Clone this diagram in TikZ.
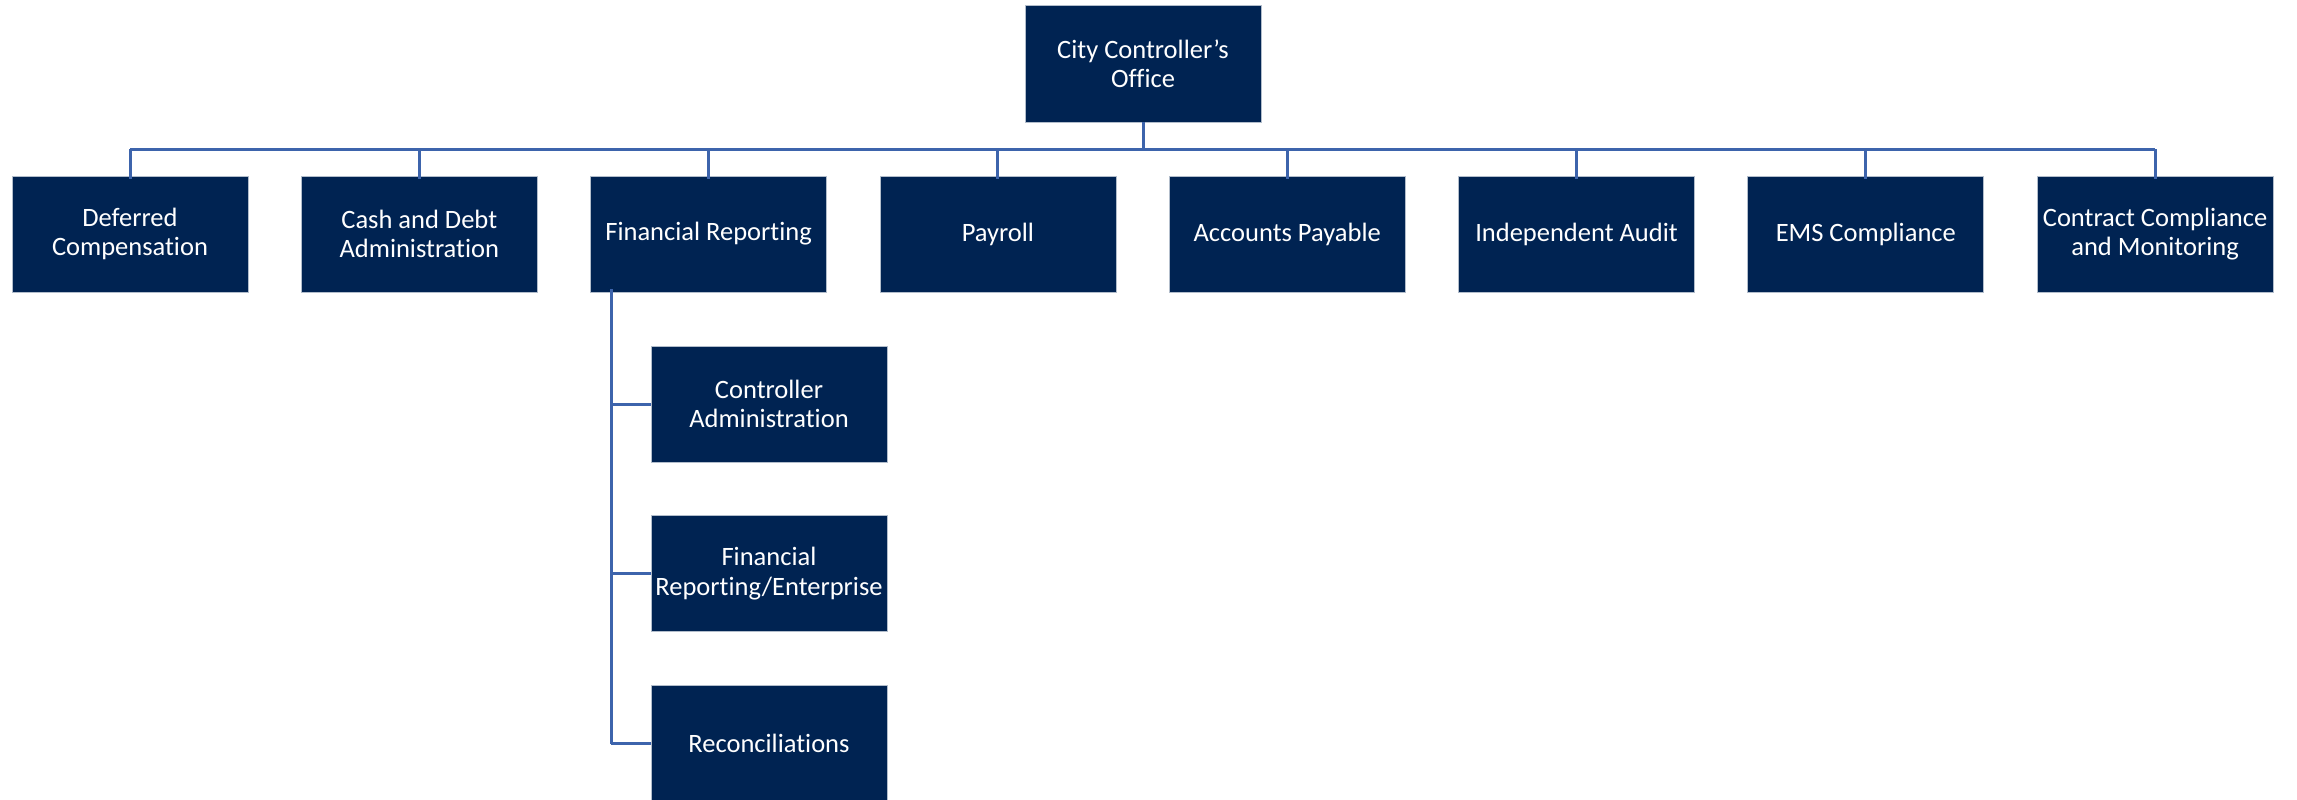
\documentclass[tikz,border=0pt]{standalone}
\usepackage{fontspec}
\setmainfont{Carlito}[Ligatures=NoCommon]
\usepackage{tikz}
\usetikzlibrary{positioning}
\definecolor{unitnavy}{RGB}{0,35,82}
\definecolor{linkblue}{RGB}{61,100,172}
\tikzset{
  unit/.style={rectangle, fill=unitnavy, draw=white!70!unitnavy, line width=0.8pt,
    minimum width=236pt, minimum height=116pt, inner sep=2pt, align=center,
    text=white, font=\fontsize{26.5}{29.5}\selectfont},
  link/.style={draw=linkblue, line width=3pt}
}

\begin{document}
\begin{tikzpicture}[x=1pt,y=-1pt]
        \useasboundingbox (0,0) rectangle (2297,800);
        \node[unit, minimum height=117pt] (office) at (1143,63.5) {City Controller’s\\Office};
        \coordinate (bus) at (0,149);
        \foreach \name/\txt [count=\i from 0] in {
          defcomp/{Deferred\\Compensation},
          cashdebt/{Cash and Debt\\Administration},
          finrep/Financial Reporting,
          payroll/Payroll,
          payable/Accounts Payable,
          audit/Independent Audit,
          ems/EMS Compliance,
          contract/{Contract Compliance\\and Monitoring}}
          \node[unit] (\name) at (130+289.3*\i,234) {\txt};
        \node[unit] (ctrladm) at (769,404) {Controller\\Administration};
        \node[unit, below=53pt of ctrladm] (finent) {Financial\\Reporting/Enterprise};
        \node[unit, below=53pt of finent] (recon) {Reconciliations};
        \coordinate (spine) at ([xshift=21pt]finrep.south west);
        \path[link]
        (office) edge (office |- bus)
        (defcomp.north |- bus) edge (contract.north |- bus)
        ;
        \foreach \name in {defcomp,cashdebt,finrep,payroll,payable,audit,ems,contract}
          \draw[link] ([yshift=-3pt]\name.north) -- (\name.north |- bus);
        \path[link]
        ([yshift=3pt]spine) edge (spine |- recon.west)
        (spine |- ctrladm.west) edge (ctrladm.west)
        (spine |- finent.west) edge (finent.west)
        (spine |- recon.west) edge (recon.west)
        ;
\end{tikzpicture}
\end{document}
